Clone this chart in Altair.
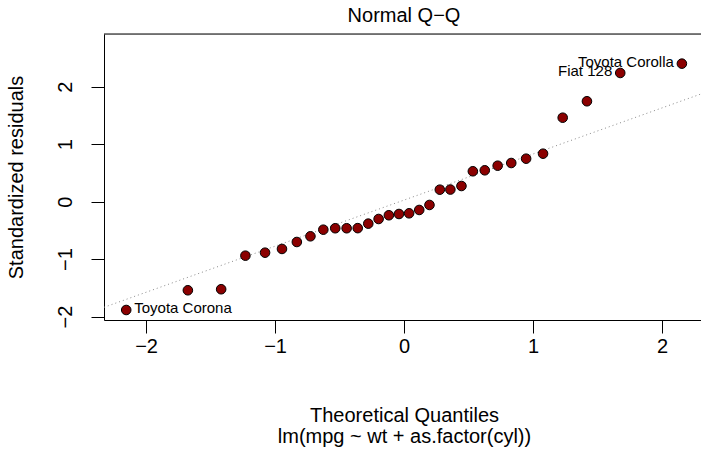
import altair as alt
import pandas as pd

# Theoretical normal quantiles (x) and sorted standardized residuals (y)
theoretical = [-2.1538, -1.6759, -1.4178, -1.2298, -1.0775, -0.9463, -0.8310, -0.7257,
               -0.6258, -0.5334, -0.4450, -0.3590, -0.2773, -0.1971, -0.1177, -0.0392,
               0.0392, 0.1177, 0.1971, 0.2773, 0.3590, 0.4450, 0.5334, 0.6258,
               0.7257, 0.8310, 0.9463, 1.0775, 1.2298, 1.4178, 1.6759, 2.1538]
std_resid = [-1.886, -1.543, -1.525, -0.941, -0.889, -0.824, -0.703, -0.604,
             -0.489, -0.464, -0.464, -0.462, -0.384, -0.303, -0.238, -0.216,
             -0.204, -0.146, -0.059, 0.207, 0.209, 0.271, 0.527, 0.544,
             0.624, 0.671, 0.746, 0.833, 1.459, 1.745, 2.237, 2.399]
point_labels = ["Toyota Corona"] + [""] * 29 + ["Fiat 128", "Toyota Corolla"]
label_side = ["right"] + [""] * 29 + ["left", "left"]

# Reference (qq) line: intercept and slope
qq_intercept = 0.026
qq_slope = 0.8018

x_domain = [-2.326, 2.302]
y_domain = [-2.06, 2.915]
x_ticks = [-2, -1, 0, 1, 2]
y_ticks = [-2, -1, 0, 1, 2]

FONT = "Liberation Sans"
W, H = 597, 286

pts = pd.DataFrame({"x": theoretical, "y": std_resid,
                    "label": point_labels, "side": label_side})
line_df = pd.DataFrame({"x": x_domain,
                        "y": [qq_intercept + qq_slope * v for v in x_domain]})

xscale = alt.Scale(domain=x_domain, nice=False, zero=False)
yscale = alt.Scale(domain=y_domain, nice=False, zero=False)

xaxis = alt.Axis(values=x_ticks, format="d", grid=False, tickSize=13, tickColor="black",
                 domainColor="black", domainWidth=1, labelFontSize=20,
                 labelFont=FONT, labelColor="black", labelPadding=19.3,
                 labelBaseline="alphabetic", labelFlush=False, labelOverlap=False,
                 title=["Theoretical Quantiles", "lm(mpg ~ wt + as.factor(cyl))"],
                 titleFont=FONT, titleFontSize=20, titleFontWeight="normal",
                 titleColor="black", titleBaseline="alphabetic", titleX=300,
                 titleY=101.7, titleLineHeight=20.8, titleAlign="center")
yaxis = alt.Axis(values=y_ticks, format="d", grid=False, tickSize=13, tickColor="black",
                 domainColor="black", domainWidth=1, labelFontSize=20,
                 labelFont=FONT, labelColor="black", labelPadding=19.3,
                 labelAngle=270, labelAlign="center", labelBaseline="alphabetic",
                 labelFlush=False, labelOverlap=False,
                 title="Standardized residuals", titleFont=FONT, titleFontSize=20,
                 titleFontWeight="normal", titleColor="black", titleAngle=270,
                 titleBaseline="alphabetic", titleAlign="center",
                 titleX=-81.3, titleY=H / 2)

qq_line = alt.Chart(line_df).mark_line(color="#8a8a8a", strokeWidth=1,
                                       strokeDash=[1, 3], clip=True).encode(
    x=alt.X("x:Q", scale=xscale, axis=xaxis),
    y=alt.Y("y:Q", scale=yscale, axis=yaxis),
)

points = alt.Chart(pts).mark_point(filled=True, fill="#8B0000", stroke="black",
                                   strokeWidth=1, size=92, opacity=1,
                                   shape="circle").encode(
    x=alt.X("x:Q", scale=xscale),
    y=alt.Y("y:Q", scale=yscale),
)

labels_right = alt.Chart(pts).transform_filter(alt.datum.side == "right").mark_text(
    align="left", baseline="alphabetic", dx=8, dy=3.5, font=FONT, fontSize=15,
    color="black").encode(
    x=alt.X("x:Q", scale=xscale), y=alt.Y("y:Q", scale=yscale), text="label:N")

labels_left = alt.Chart(pts).transform_filter(alt.datum.side == "left").mark_text(
    align="right", baseline="alphabetic", dx=-8, dy=3.5, font=FONT, fontSize=15,
    color="black").encode(
    x=alt.X("x:Q", scale=xscale), y=alt.Y("y:Q", scale=yscale), text="label:N")

top_border = alt.Chart(pd.DataFrame({"a": [0]})).mark_rule(
    color="black", strokeWidth=1).encode(
    x=alt.value(0), x2=alt.value(W), y=alt.value(0))

chart = alt.layer(qq_line, top_border, points, labels_right, labels_left).properties(
    width=W, height=H,
    title=alt.TitleParams("Normal Q−Q", font=FONT, fontSize=20, fontWeight="normal",
                          color="black", anchor="middle", baseline="alphabetic",
                          offset=7, dx=1.5, dy=15.5),
    autosize=alt.AutoSizeParams(type="none"),
    padding={"left": 104, "top": 34, "right": 0, "bottom": 132},
).configure_view(stroke="transparent").configure(background="white")

chart.save("out.html", embed_options={"renderer": "svg", "actions": False})
